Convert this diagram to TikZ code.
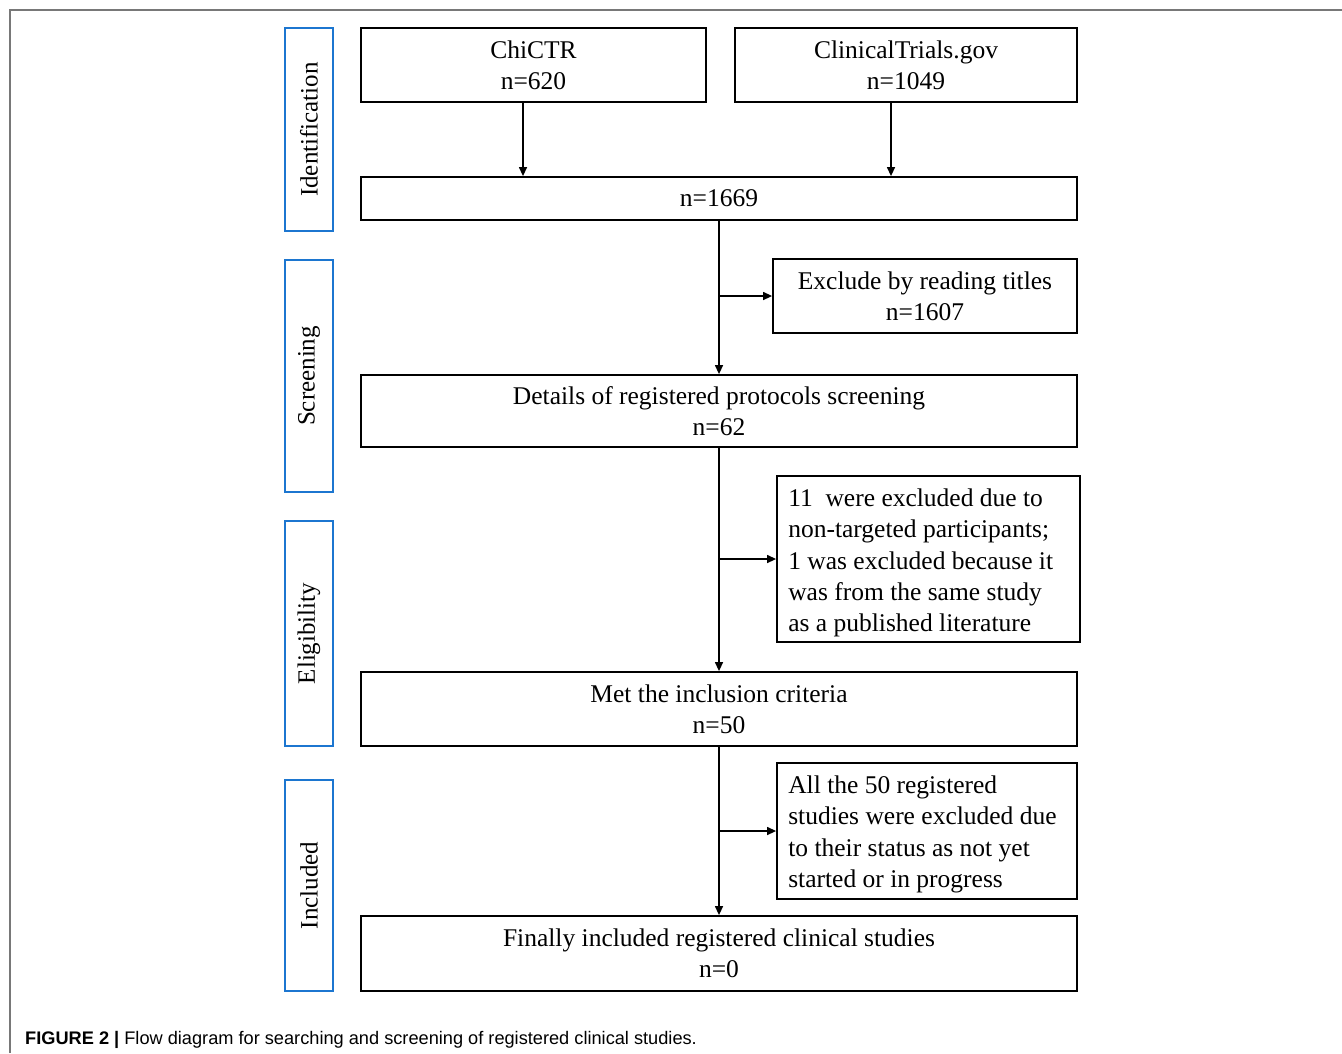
\documentclass[tikz,border=0pt]{standalone}
\usepackage{fontspec}
\setmainfont{Liberation Serif}
\newfontfamily\capfont{Liberation Sans}
\usetikzlibrary{arrows.meta}
\definecolor{stageblue}{RGB}{28,118,208}
\definecolor{framegray}{RGB}{120,120,120}
\begin{document}
\begin{tikzpicture}[x=1pt,y=-1pt,
  box/.style={draw=black, line width=1.8pt, inner sep=0pt, align=center,
    font=\fontsize{25.5}{31.3}\selectfont},
  txt/.style={inner sep=0pt, align=left, anchor=west,
    font=\fontsize{25.5}{31.3}\selectfont},
  stage/.style={draw=stageblue, line width=2.6pt, inner sep=0pt,
    minimum width=48pt},
  stagetxt/.style={rotate=90, inner sep=0pt, font=\fontsize{25}{28}\selectfont},
  arr/.style={line width=1.3pt, -{Triangle[length=9pt,width=8pt]}}]
\useasboundingbox (0,0) rectangle (1342,1053);
\draw[framegray, line width=1.5pt] (10,1053) -- (10,10) -- (1342,10);

% stage labels
\node[stage, minimum height=203pt] (ident) at (309,129.5) {};
\node[stagetxt] (identt) at (ident.center) {Identification};
\node[stage, minimum height=232pt] (screen) at (309,376) {};
\node[stagetxt] (screent) at (screen.center) {Screening};
\node[stage, minimum height=225pt] (elig) at (309,633.5) {};
\node[stagetxt] (eligt) at (elig.center) {Eligibility};
\node[stage, minimum height=211pt] (incl) at (309,885.5) {};
\node[stagetxt] (inclt) at (incl.center) {Included};

% boxes
\node[box, minimum width=345pt, minimum height=74pt] (chictr) at (533.5,65) {ChiCTR\\n=620};
\node[box, minimum width=342pt, minimum height=74pt] (ctg) at (906,65) {ClinicalTrials.gov\\n=1049};
\node[box, minimum width=716pt, minimum height=43pt] (n1669) at (719,198.5) {n=1669};
\node[box, minimum width=304pt, minimum height=74pt] (excl1) at (925,296) {Exclude by reading titles\\n=1607};
\node[box, minimum width=716pt, minimum height=72pt] (details) at (719,411) {Details of registered protocols screening\\n=62};
\node[box, minimum width=303pt, minimum height=166pt] (excl2) at (928.5,559) {};
\node[txt] (excl2t) at ([xshift=12pt,yshift=-4pt]excl2.west)
  {11\ \ were excluded due to\\non-targeted participants;\\1 was excluded because it\\was from the same study\\as a published literature};
\node[box, minimum width=716pt, minimum height=74pt] (met) at (719,709) {Met the inclusion criteria\\n=50};
\node[box, minimum width=300pt, minimum height=136pt] (excl3) at (927,831) {};
\node[txt] (excl3t) at ([xshift=12pt,yshift=-3.5pt]excl3.west)
  {All the 50 registered\\studies were excluded due\\to their status as not yet\\started or in progress};
\node[box, minimum width=716pt, minimum height=75pt] (final) at (719,953.5) {Finally included registered clinical studies\\n=0};

% connectors
\draw[arr] ([xshift=-10.5pt]chictr.south) -- ([xshift=-10.5pt]chictr.south |- n1669.north);
\draw[arr] ([xshift=-15pt]ctg.south) -- ([xshift=-15pt]ctg.south |- n1669.north);
\draw[arr] (n1669.south) -- (details.north);
\draw[arr] (n1669.south |- excl1.west) -- (excl1.west);
\draw[arr] (details.south) -- (met.north);
\draw[arr] (details.south |- excl2.west) -- (excl2.west);
\draw[arr] (met.south) -- (final.north);
\draw[arr] (met.south |- excl3.west) -- (excl3.west);

% caption
\node[anchor=base west, inner sep=0pt, font=\capfont\fontsize{18.2}{20}\selectfont] (cap) at (25,1044)
  {\textbf{FIGURE 2 |} Flow diagram for searching and screening of registered clinical studies.};
\end{tikzpicture}
\end{document}
